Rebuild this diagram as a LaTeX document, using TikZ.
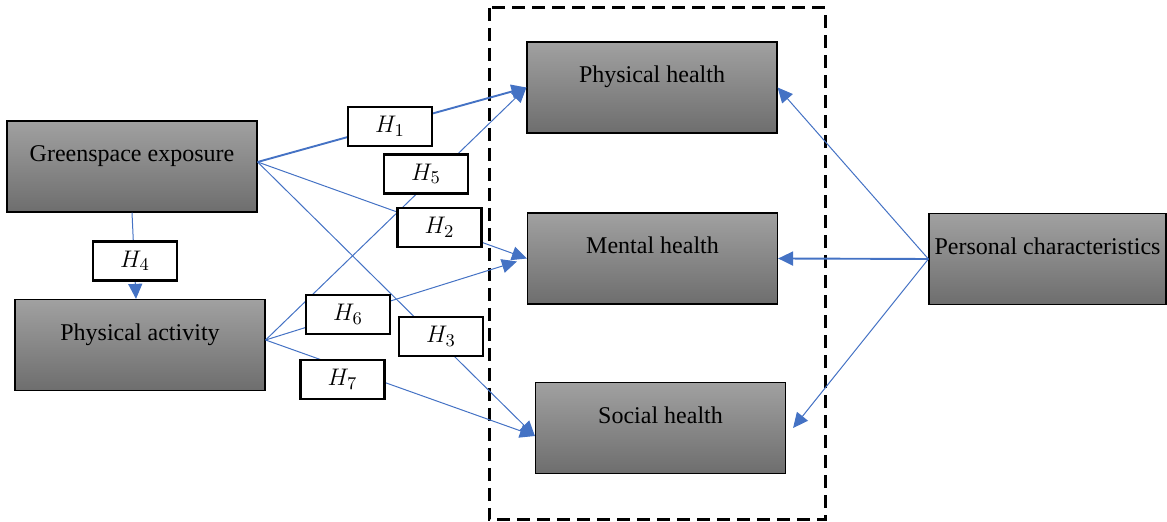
\documentclass[tikz,border=0pt]{standalone}
\usepackage{fontspec}
\setmainfont{Liberation Serif}
\usepackage{xcolor}
\usetikzlibrary{arrows.meta,positioning}
\definecolor{linkblue}{HTML}{4472C4}

\begin{document}
\begin{tikzpicture}[x=0.5pt,y=-0.5pt,
    varbox/.style={draw=black, line width=0.6pt, top color=black!37, bottom color=black!57,
      inner xsep=2pt, inner ysep=0pt, text height=20.5pt, text depth=25pt,
      minimum width=125pt, font=\fontsize{12}{14}\selectfont},
    hbox/.style={draw=black, line width=1.3pt, fill=white, minimum width=42pt,
      minimum height=19.5pt, inner sep=0pt, font=\fontsize{13}{15}\selectfont},
    link/.style={draw=linkblue, line width=0.5pt, -{Triangle[length=7.5pt,width=7pt]}},
    boldlink/.style={link, line width=0.95pt},
    groupframe/.style={draw=black, dash pattern=on 6.5pt off 3.5pt, line width=1.5pt}]
  \useasboundingbox (0,0) rectangle (1167,522);

  % variables
  \node[varbox] (ge) at (132,166.5) {Greenspace exposure};
  \node[varbox] (pa) at (140,345) {Physical activity};
  \node[varbox] (ph) at (652,87.5) {Physical health};
  \node[varbox] (mh) at (652.5,258.5) {Mental health};
  \node[varbox] (sh) at (660.5,428) {Social health};
  \node[varbox, minimum width=118.5pt] (pc) at (1047.5,259) {Personal characteristics};

  % health block
  \draw[groupframe] (489,8) rectangle (825,520);

  % paths
  \draw[boldlink] ([yshift=2.25pt]ge.east) -- (ph.west);
  \draw[link] ([yshift=2.25pt]ge.east) -- (mh.west);
  \draw[link] ([yshift=2.25pt]ge.east) -- ([yshift=-4pt]sh.west);
  \draw[link] (ge.south) -- ([xshift=2pt]ge.south |- pa.north);
  \draw[link] ([yshift=2.5pt]pa.east) -- (ph.west);
  \draw[link] ([yshift=2.5pt]pa.east) -- ([xshift=-5pt,yshift=-1.5pt]mh.west);
  \draw[link] ([yshift=2.5pt]pa.east) -- ([yshift=-4pt]sh.west);
  \draw[link] (pc.west) -- (ph.east);
  \draw[boldlink] (pc.west) -- (mh.east);
  \draw[link] (pc.west) -- ([xshift=3.5pt]sh.east);

  % hypotheses
  \node[hbox] (h1) at (390,126.5) {$H_1$};
  \node[hbox] (h5) at (426,174) {$H_5$};
  \node[hbox] (h2) at (439.5,227.5) {$H_2$};
  \node[hbox] (h4) at (135,261) {$H_4$};
  \node[hbox] (h6) at (348,314.5) {$H_6$};
  \node[hbox] (h3) at (441,336.5) {$H_3$};
  \node[hbox] (h7) at (342.5,379.5) {$H_7$};

\end{tikzpicture}
\end{document}
